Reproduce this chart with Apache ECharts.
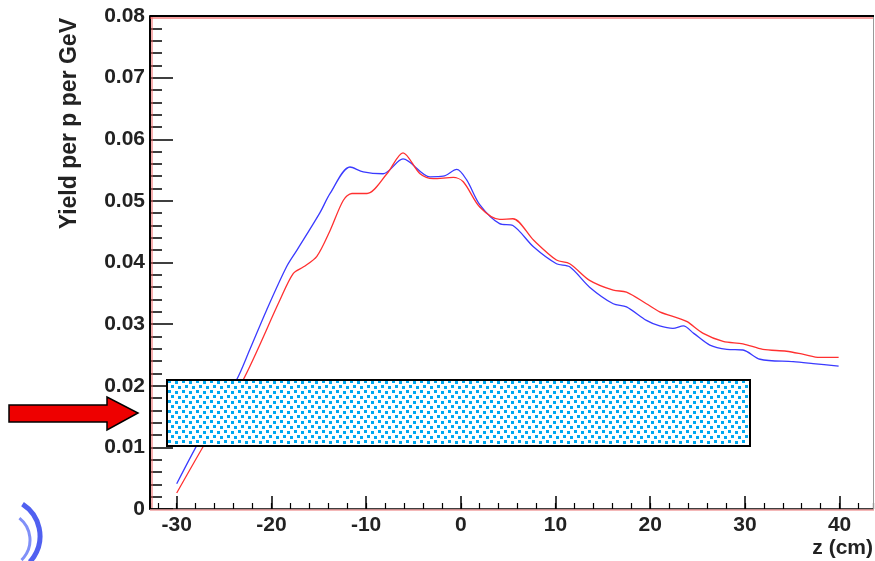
<!DOCTYPE html>
<html>
<head>
<meta charset="utf-8">
<script src="https://cdn.jsdelivr.net/npm/echarts@6/dist/echarts.min.js"></script>
<style>
  html, body { margin: 0; padding: 0; background: #fff; }
  #main { width: 875px; height: 561px; }
</style>
</head>
<body>
<div id="main"></div>
<script>
// data: z in cm, yield per p per GeV
var zBlue = [-30, -27.2, -23.7, -22.3, -20.5, -18.4, -17.3, -14.9, -13.8, -11.7, -10.3, -8.2, -6.1, -3.25, -1.85, -0.43, 0.62, 2.0, 4.1, 5.5, 7.7, 10.1, 11.5, 13.6, 16.1, 17.5, 19.6, 21.0, 22.4, 23.5, 24.6, 26.3, 28.1, 29.8, 31.6, 35.1, 37.2, 39.9];
var yieldBlue = [0.0041, 0.0122, 0.0209, 0.0258, 0.0323, 0.0393, 0.042, 0.048, 0.0512, 0.0555, 0.0547, 0.0544, 0.0568, 0.0539, 0.054, 0.0551, 0.0534, 0.0494, 0.0463, 0.046, 0.0425, 0.0398, 0.0393, 0.036, 0.0333, 0.0328, 0.0306, 0.0297, 0.0293, 0.0297, 0.0285, 0.0266, 0.0259, 0.0258, 0.0243, 0.0239, 0.0236, 0.0232];

var zRed = [-30, -26.8, -23.0, -19.1, -17.7, -16.6, -15.2, -13.8, -12.4, -11.5, -9.9, -7.8, -6.1, -4.3, -2.9, -0.8, 0.26, 2.0, 4.1, 5.5, 7.7, 10.1, 11.5, 13.6, 16.1, 17.5, 19.6, 21.0, 23.1, 23.9, 25.6, 27.7, 29.8, 31.9, 34.4, 36.2, 37.9, 39.9];
var yieldRed = [0.0026, 0.0112, 0.0209, 0.0339, 0.0382, 0.0393, 0.041, 0.0452, 0.0501, 0.0512, 0.0512, 0.0544, 0.0578, 0.0544, 0.0536, 0.0538, 0.0531, 0.049, 0.047, 0.0471, 0.0436, 0.0404, 0.0398, 0.0371, 0.0355, 0.0352, 0.0333, 0.032, 0.0309, 0.0304, 0.0285, 0.0272, 0.0268, 0.0259, 0.0256, 0.0251, 0.0246, 0.0246];

var xTicks = [-30, -20, -10, 0, 10, 20, 30, 40];
var yTicks = ['0', '0.01', '0.02', '0.03', '0.04', '0.05', '0.06', '0.07', '0.08'];

function pairs(xs, ys) {
  var out = [];
  for (var i = 0; i < xs.length; i++) out.push([xs[i], ys[i]]);
  return out;
}

// dotted fill for the box
var tile = document.createElement('canvas');
tile.width = 14;
tile.height = 10;
var tc = tile.getContext('2d');
tc.fillStyle = '#ffffff';
tc.fillRect(0, 0, 14, 10);
tc.fillStyle = '#00a8f0';
[[0, 0], [7, 1], [3, 5], [10, 6]].forEach(function(p) {
  tc.fillRect(p[0], p[1], 3, 3);
});

var FONT = '"Liberation Sans", Arial, sans-serif';
var myChart = echarts.init(document.getElementById('main'));

var option = {
  backgroundColor: '#ffffff',
  animation: false,
  grid: { left: 150, top: 16, right: 2, bottom: 52, containLabel: false },
  xAxis: [{
    type: 'value',
    min: -32.82,
    max: 43.53,
    splitNumber: 7,
    axisLine: { show: true, onZero: false, lineStyle: { color: '#000', width: 1.5 } },
    axisTick: { show: true, inside: true, length: 13, lineStyle: { color: '#000', width: 1.5 } },
    axisLabel: {
      show: true, margin: 6, showMinLabel: false, showMaxLabel: false,
      color: '#222', fontFamily: FONT, fontWeight: 'bold', fontSize: 21,
      formatter: function(v) { return xTicks.indexOf(Math.round(v * 100) / 100) >= 0 ? String(v) : ''; }
    },
    splitLine: { show: false }
  }, {
    // minor ticks every 2 cm
    type: 'value',
    position: 'bottom',
    min: -32.82,
    max: 43.53,
    splitNumber: 38,
    axisLine: { show: false, onZero: false },
    axisTick: { show: true, inside: true, length: 6, lineStyle: { color: '#000', width: 1.2 } },
    axisLabel: { show: false },
    splitLine: { show: false }
  }],
  yAxis: {
    type: 'value',
    min: 0,
    max: 0.08,
    interval: 0.01,
    axisLine: { show: true, onZero: false, lineStyle: { color: '#000', width: 2 } },
    axisTick: { show: true, inside: true, length: 23, lineStyle: { color: '#000', width: 1.5 } },
    minorTick: { show: true, splitNumber: 5, length: 12, lineStyle: { color: '#000', width: 1.5 } },
    axisLabel: {
      margin: 5, color: '#222', fontFamily: FONT, fontWeight: 'bold', fontSize: 21,
      formatter: function(v) { return yTicks[Math.round(v * 100)]; }
    },
    splitLine: { show: false }
  },
  series: [{
    name: 'blue',
    type: 'line',
    xAxisIndex: 0,
    data: pairs(zBlue, yieldBlue),
    smooth: 0.3,
    symbol: 'none',
    lineStyle: { color: '#3a3aff', width: 1.3 },
    z: 3
  }, {
    name: 'red',
    type: 'line',
    xAxisIndex: 0,
    data: pairs(zRed, yieldRed),
    smooth: 0.3,
    symbol: 'none',
    lineStyle: { color: '#ff3030', width: 1.3 },
    z: 4
  }],
  graphic: [
    // frame extras
    { type: 'line', shape: { x1: 150, y1: 16, x2: 874, y2: 16 }, style: { stroke: '#000', lineWidth: 2 }, z: 10 },
    { type: 'line', shape: { x1: 150, y1: 18, x2: 874, y2: 18 }, style: { stroke: '#f04040', lineWidth: 1 }, z: 10 },
    { type: 'line', shape: { x1: 152, y1: 17, x2: 152, y2: 508 }, style: { stroke: '#f06060', lineWidth: 1 }, z: 10 },
    { type: 'line', shape: { x1: 150, y1: 510, x2: 874, y2: 510 }, style: { stroke: '#f0a0a0', lineWidth: 1.5 }, z: 10 },
    { type: 'line', shape: { x1: 873.5, y1: 17, x2: 873.5, y2: 509 }, style: { stroke: '#999', lineWidth: 1 }, z: 10 },
    // dotted box
    { type: 'rect', shape: { x: 167, y: 380, width: 583, height: 66 },
      style: { fill: { image: tile, repeat: 'repeat' }, stroke: '#000', lineWidth: 2 }, z: 20 },
    // red arrow
    { type: 'polygon',
      shape: { points: [[9, 405], [107, 405], [107, 397], [138, 413], [107, 430], [107, 422], [9, 422]] },
      style: { fill: '#ee0000', stroke: '#000', lineWidth: 1.5 }, z: 20 },
    // logo fragment
    { type: 'arc', shape: { cx: 2, cy: 536, r: 38, startAngle: -1.0, endAngle: 0.75 },
      style: { stroke: '#5060f0', lineWidth: 5, fill: null }, z: 20 },
    { type: 'arc', shape: { cx: 2, cy: 540, r: 28, startAngle: -0.9, endAngle: 0.8 },
      style: { stroke: '#8090f8', lineWidth: 3, fill: null }, z: 20 },
    // axis titles
    { type: 'text', x: 70, y: 18, rotation: Math.PI / 2,
      style: { text: 'Yield per p per GeV', fill: '#222', font: 'bold 23px ' + FONT, align: 'right', verticalAlign: 'middle' }, z: 20 },
    { type: 'text', x: 873, y: 548,
      style: { text: 'z (cm)', fill: '#222', font: 'bold 21px ' + FONT, align: 'right', verticalAlign: 'middle' }, z: 20 }
  ]
};

myChart.setOption(option);
</script>
</body>
</html>
